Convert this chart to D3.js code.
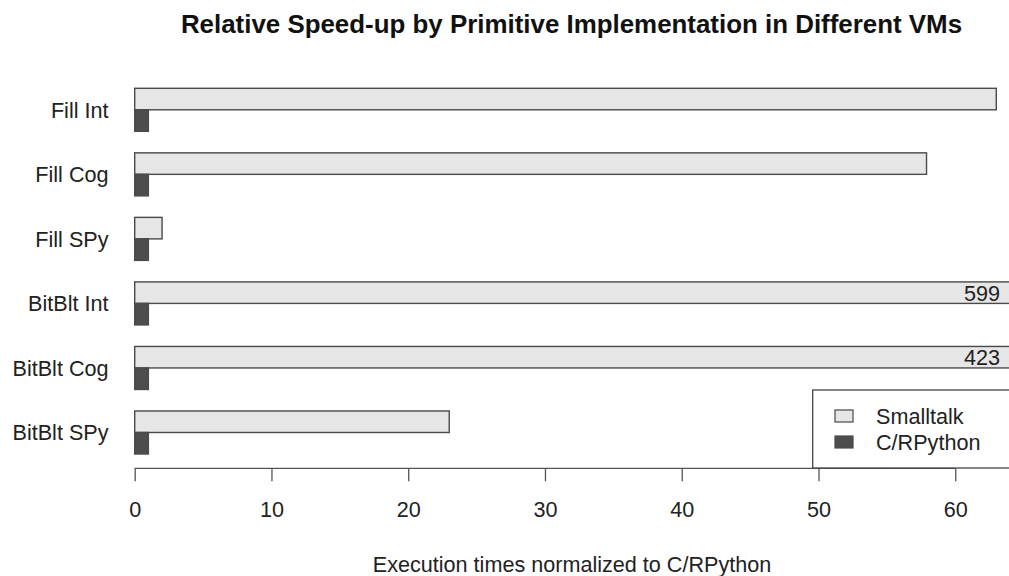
<!DOCTYPE html>
<html>
<head>
<meta charset="utf-8">
<script src="https://cdn.jsdelivr.net/npm/d3@7"></script>
<style>
  body { margin: 0; background: #fff; }
  svg { display: block; font-family: "Liberation Sans", Arial, Helvetica, sans-serif; }
</style>
</head>
<body>
<div id="wrapper"></div>
<script>
// data
const categories = ["Fill Int", "Fill Cog", "Fill SPy", "BitBlt Int", "BitBlt Cog", "BitBlt SPy"];
const smalltalk = [63.0, 57.9, 2.0, 599, 423, 23.0];
const crpython = [1, 1, 1, 1, 1, 1];
const seriesNames = ["Smalltalk", "C/RPython"];
const seriesColors = ["#e6e6e6", "#4d4d4d"];
const xTicks = [0, 10, 20, 30, 40, 50, 60];
const xLimit = 63.93;

const width = 1009, height = 576;

const svg = d3.select("#wrapper").append("svg")
  .attr("width", width)
  .attr("height", height);

// scales
const xScale = d3.scaleLinear()
  .domain([0, xLimit])
  .range([134.7, width]);

// bar units: each group = 2 bars + 1 gap
const yScale = d3.scaleLinear()
  .domain([0, 17])
  .range([88.3, 454]);

// flatten into bars
let bars = [];
categories.forEach((c, i) => {
  bars.push({ cat: c, s: 0, v: smalltalk[i], u: i * 3 });
  bars.push({ cat: c, s: 1, v: crpython[i], u: i * 3 + 1 });
});

svg.append("g")
  .selectAll("rect")
  .data(bars)
  .join("rect")
  .attr("x", xScale(0))
  .attr("y", d => yScale(d.u))
  .attr("width", d => Math.min(xScale(d.v), width + 5) - xScale(0))
  .attr("height", yScale(1) - yScale(0))
  .attr("fill", d => seriesColors[d.s])
  .attr("stroke", "#4a4a4a")
  .attr("stroke-width", 1.4);

// values that run off the chart
svg.append("g")
  .selectAll("text")
  .data(bars.filter(d => d.v > xLimit))
  .join("text")
  .attr("x", 1000)
  .attr("y", d => (yScale(d.u) + yScale(d.u + 1)) / 2 + 8)
  .attr("text-anchor", "end")
  .attr("font-size", "21.6px")
  .attr("fill", "#222")
  .text(d => d.v);

// category labels
svg.append("g")
  .selectAll("text")
  .data(categories)
  .join("text")
  .attr("x", 108.5)
  .attr("y", (d, i) => yScale(i * 3 + 1) + 7.7)
  .attr("text-anchor", "end")
  .attr("font-size", "21.6px")
  .attr("fill", "#222")
  .text(d => d);

// x axis, R style (line only spans ticks)
const xAxisGenerator = d3.axisBottom(xScale)
  .tickValues(xTicks)
  .tickSize(13)
  .tickPadding(20)
  .tickFormat(d3.format("d"));

const xAxis = svg.append("g")
  .attr("transform", "translate(0,468.3)")
  .call(xAxisGenerator);

xAxis.select(".domain").remove();
xAxis.selectAll(".tick line").attr("stroke", "#555").attr("stroke-width", 1.3);
xAxis.selectAll(".tick text")
  .attr("font-size", "21.6px")
  .attr("font-family", "Liberation Sans, Arial, sans-serif")
  .attr("fill", "#222");

xAxis.append("line")
  .attr("x1", xScale(0))
  .attr("x2", xScale(60))
  .attr("stroke", "#555")
  .attr("stroke-width", 1.3);

// legend
const legend = svg.append("g");
legend.append("rect")
  .attr("x", 812.7)
  .attr("y", 390)
  .attr("width", 260)
  .attr("height", 78)
  .attr("fill", "#fff")
  .attr("stroke", "#444")
  .attr("stroke-width", 1.3);

seriesNames.forEach((name, i) => {
  const cy = 416 + i * 26;
  legend.append("rect")
    .attr("x", 835)
    .attr("y", cy - 6)
    .attr("width", 18)
    .attr("height", 12)
    .attr("fill", seriesColors[i])
    .attr("stroke", "#4a4a4a")
    .attr("stroke-width", 1.2);
  legend.append("text")
    .attr("x", 876)
    .attr("y", cy + 7.5)
    .attr("font-size", "21.6px")
    .attr("fill", "#222")
    .text(name);
});

// title and axis title
svg.append("text")
  .attr("x", 571.5)
  .attr("y", 33)
  .attr("text-anchor", "middle")
  .attr("font-size", "25.9px")
  .attr("font-weight", "bold")
  .attr("fill", "#111")
  .text("Relative Speed-up by Primitive Implementation in Different VMs");

svg.append("text")
  .attr("x", 572)
  .attr("y", 572)
  .attr("text-anchor", "middle")
  .attr("font-size", "21.6px")
  .attr("fill", "#222")
  .text("Execution times normalized to C/RPython");
</script>
</body>
</html>
